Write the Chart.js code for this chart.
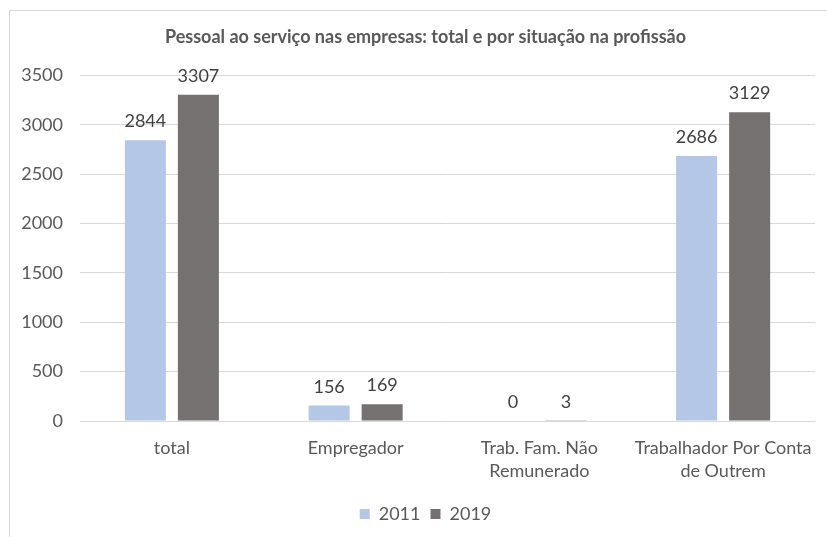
<!DOCTYPE html>
<html>
<head>
<meta charset="utf-8">
<script src="https://cdn.jsdelivr.net/npm/chart.js@4/dist/chart.umd.min.js"></script>
<style>
  html, body { margin: 0; padding: 0; background: #fff; overflow: hidden; }
  #wrap { position: absolute; left: 0; top: 0; width: 851px; height: 537px; }
</style>
</head>
<body>
<div id="wrap"><canvas id="chart"></canvas></div>
<script>
// categories and values
const categories = ['total', 'Empregador', ['Trab. Fam. Não', 'Remunerado'], ['Trabalhador Por Conta', 'de Outrem']];
const values2011 = [2844, 156, 0, 2686];
const values2019 = [3307, 169, 3, 3129];
const seriesNames = ['2011', '2019'];
const yTicks = [0, 500, 1000, 1500, 2000, 2500, 3000, 3500];

const textColor = '#595959';
const fontFamily = 'Lato, "Open Sans", sans-serif';

// excel-like outer border of the chart box
const frame = {
    id: 'frame',
    beforeDraw(chart) {
        const ctx = chart.ctx;
        ctx.save();
        ctx.strokeStyle = '#d9d9d9';
        ctx.lineWidth = 1;
        ctx.strokeRect(9.5, 10.5, 1000, 1000);
        ctx.restore();
    }
};

// value labels above each bar
const barValues = {
    id: 'barValues',
    afterDatasetsDraw(chart) {
        const ctx = chart.ctx;
        ctx.save();
        ctx.font = '18px ' + fontFamily;
        ctx.fillStyle = '#404040';
        ctx.textAlign = 'center';
        ctx.textBaseline = 'alphabetic';
        chart.data.datasets.forEach((ds, i) => {
            chart.getDatasetMeta(i).data.forEach((bar, j) => {
                ctx.fillText(ds.data[j], bar.x, bar.y - 13);
            });
        });
        ctx.restore();
    }
};

new Chart(document.getElementById('chart'), {
    type: 'bar',
    data: {
        labels: categories,
        datasets: [
            { label: seriesNames[0], data: values2011, backgroundColor: '#b4c7e7' },
            { label: seriesNames[1], data: values2019, backgroundColor: '#767171' }
        ]
    },
    options: {
        responsive: true,
        maintainAspectRatio: false,
        animation: false,
        categoryPercentage: 0.577,
        barPercentage: 0.774,
        layout: { padding: { left: 0, right: 0, top: 0, bottom: 4 } },
        plugins: {
            title: {
                display: true,
                text: 'Pessoal ao serviço nas empresas: total e por situação na profissão',
                color: textColor,
                font: { family: fontFamily, size: 18, weight: 'bold' },
                padding: { top: 26, bottom: 28 }
            },
            legend: {
                position: 'bottom',
                labels: {
                    color: textColor,
                    font: { family: fontFamily, size: 18 },
                    boxWidth: 10,
                    boxHeight: 10,
                    padding: 10
                }
            },
            tooltip: { enabled: false }
        },
        scales: {
            x: {
                grid: { display: false },
                border: { display: false },
                ticks: {
                    color: textColor,
                    font: { family: fontFamily, size: 18, lineHeight: 1.28 },
                    padding: 8,
                    maxRotation: 0,
                    autoSkip: false
                },
                afterFit(scale) { scale.height = 74; }
            },
            y: {
                min: 0,
                max: 3500,
                afterBuildTicks(scale) { scale.ticks = yTicks.map(v => ({ value: v })); },
                grid: { color: '#d9d9d9', drawTicks: false },
                border: { display: false },
                ticks: {
                    color: textColor,
                    font: { family: fontFamily, size: 18 },
                    padding: 17,
                    callback: v => String(v)
                },
                afterFit(scale) { scale.width = 80; }
            },
            // empty right-hand strip so the plot ends short of the frame
            yRight: {
                position: 'right',
                min: 0,
                max: 3500,
                grid: { display: false },
                border: { display: false },
                ticks: { display: false },
                afterFit(scale) { scale.width = 36; }
            }
        }
    },
    plugins: [frame, barValues]
});
</script>
</body>
</html>
